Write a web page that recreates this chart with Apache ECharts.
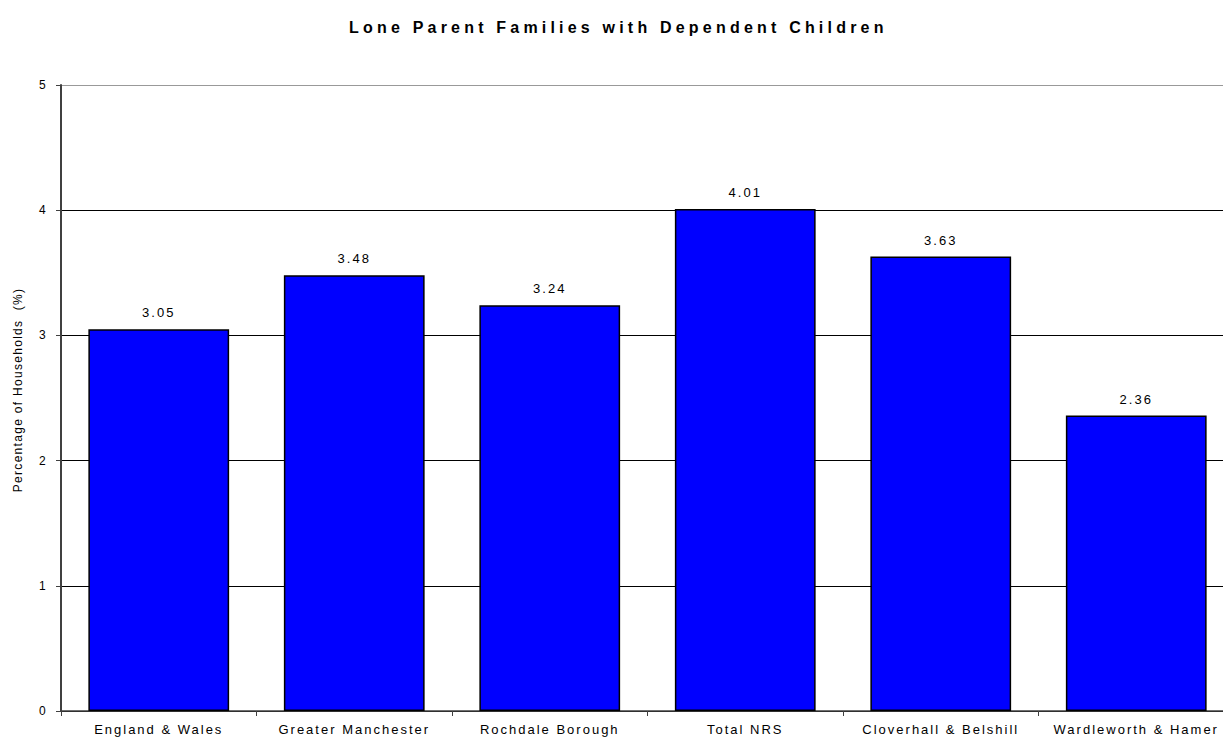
<!DOCTYPE html>
<html>
<head>
<meta charset="utf-8">
<script src="https://cdn.jsdelivr.net/npm/echarts@6/dist/echarts.min.js"></script>
<style>
  html, body { margin: 0; padding: 0; background: #fff; }
  #chart { width: 1223px; height: 738px; }
  /* the original chart uses wide letter spacing */
  #chart text[style*="bold"] { letter-spacing: 4.2px; }
  #chart text[style*="13px"] { letter-spacing: 2px; }
  #chart text[style*="12px"] { letter-spacing: 1.3px; }
</style>
</head>
<body>
<div id="chart"></div>
<script>
const categories = [
  'England & Wales',
  'Greater Manchester',
  'Rochdale Borough',
  'Total NRS',
  'Cloverhall & Belshill',
  'Wardleworth & Hamer',
];
const values = [3.05, 3.48, 3.24, 4.01, 3.63, 2.36];

const chart = echarts.init(document.getElementById('chart'), null, { renderer: 'svg' });

const option = {
  animation: false,
  title: {
    text: 'Lone Parent Families with Dependent Children',
    left: 344,
    top: 14,
    textStyle: {
      fontFamily: 'Liberation Sans',
      fontSize: 16,
      fontWeight: 'bold',
      color: '#000',
    },
  },
  grid: {
    left: 61,
    right: -11,
    top: 85,
    bottom: 27,
    outerBoundsMode: 'none',
  },
  xAxis: {
    type: 'category',
    data: categories,
    axisLine: { lineStyle: { color: '#404040', width: 1.5 } },
    axisTick: { show: true, length: 5, lineStyle: { color: '#404040' } },
    axisLabel: {
      fontFamily: 'Liberation Sans',
      fontSize: 13,
      color: '#000',
      margin: 12,
      interval: 0,
    },
  },
  yAxis: {
    type: 'value',
    min: 0,
    max: 5,
    interval: 1,
    name: 'Percentage of Households  (%)',
    nameLocation: 'middle',
    nameGap: 37,
    nameTextStyle: {
      fontFamily: 'Liberation Sans',
      fontSize: 12,
      color: '#000',
      padding: [0, 0, 0, 16],
    },
    axisLine: { show: true, lineStyle: { color: '#404040', width: 2 } },
    axisTick: { show: true, length: 5, lineStyle: { color: '#404040' } },
    axisLabel: {
      fontFamily: 'Liberation Sans',
      fontSize: 12,
      color: '#000',
      margin: 14,
    },
    splitLine: {
      lineStyle: {
        color: ['#000', '#000', '#000', '#000', '#000', '#999'],
        width: 1,
      },
    },
  },
  series: [
    {
      type: 'bar',
      data: values,
      barWidth: '72%',
      itemStyle: {
        color: '#0000ff',
        borderColor: '#000',
        borderWidth: 1.5,
      },
      label: {
        show: true,
        position: 'top',
        distance: 10,
        formatter: p => p.value.toFixed(2),
        fontFamily: 'Liberation Sans',
        fontSize: 13,
        color: '#000',
      },
    },
  ],
};

chart.setOption(option);
</script>
</body>
</html>
